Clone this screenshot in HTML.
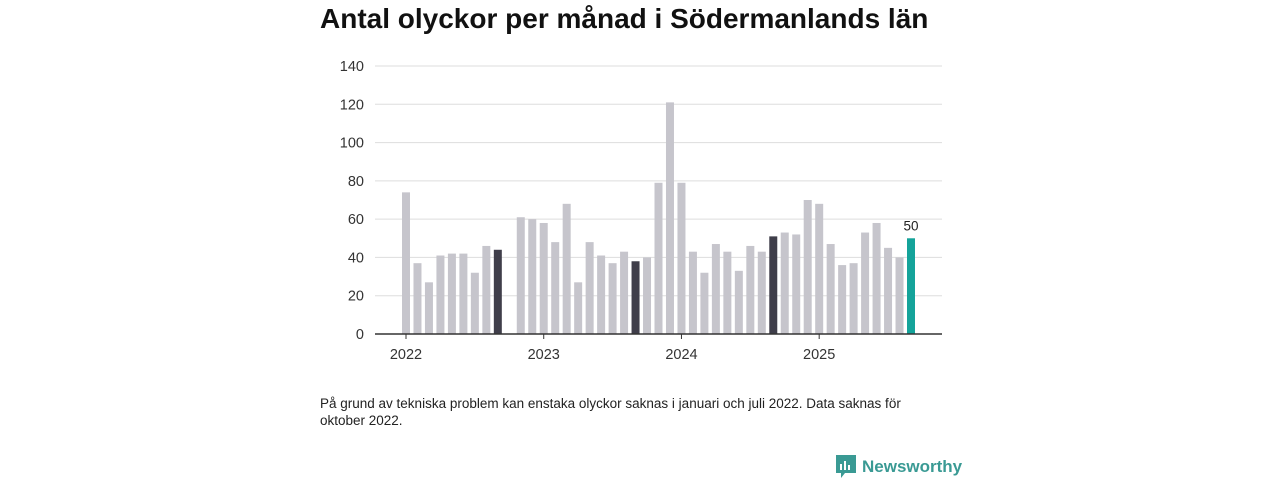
<!DOCTYPE html>
<html><head><meta charset="utf-8"><style>
body{margin:0;width:1280px;height:480px;background:#fff;font-family:"Liberation Sans",sans-serif;overflow:hidden;position:relative}
h1{position:absolute;left:320px;top:3px;margin:0;font-size:28px;font-weight:bold;color:#111}
.note{position:absolute;left:320px;top:395px;font-size:13.5px;color:#222;line-height:17px;width:625px}
.logo{position:absolute;left:836px;top:455px;display:flex;align-items:center;color:#3a9a94;font-size:17px;font-weight:bold}
</style></head><body>
<h1>Antal olyckor per månad i Södermanlands län</h1>
<svg id="chart" width="1280" height="380" style="position:absolute;left:0;top:0"></svg>
<div class="note">På grund av tekniska problem kan enstaka olyckor saknas i januari och juli 2022. Data saknas för oktober 2022.</div>
<div class="logo"><svg width="20" height="24" viewBox="0 0 20 24"><path d="M0 0h20v18H9l-4 5v-5H0z" fill="#3a9a94"/><rect x="4" y="9" width="2" height="6" fill="#fff"/><rect x="8" y="6" width="2" height="9" fill="#fff"/><rect x="12" y="10" width="2" height="5" fill="#fff"/></svg><span style="margin-left:6px">Newsworthy</span></div>
<script>
const values=[74,37,27,41,42,42,32,46,44,null,61,60,58,48,68,27,48,41,37,43,38,40,79,121,79,43,32,47,43,33,46,43,51,53,52,70,68,47,36,37,53,58,45,40,50];
const yTicks=[0,20,40,60,80,100,120,140];
const yearLabels=["2022","2023","2024","2025"];
const lastLabel="50";
const svg=document.getElementById('chart');const NS='http://www.w3.org/2000/svg';
const x0=406,step=(911-406)/44,y0=334,pxPer=(334-66)/140;
const X=i=>x0+i*step, Y=v=>y0-v*pxPer;
function el(t,a,p){const e=document.createElementNS(NS,t);for(const k in a)e.setAttribute(k,a[k]);(p||svg).appendChild(e);return e;}
yTicks.forEach(t=>{
 if(t>0){const g=el('line',{x1:375,x2:942,y1:Y(t),y2:Y(t),stroke:'#ddd','stroke-width':1});
 
 }
 const tx=el('text',{x:364,y:Y(t)+5,'text-anchor':'end','font-size':14.5,fill:'#333'});tx.textContent=t;
 
 
});
values.forEach((v,i)=>{if(v==null)return;
 const c=i===values.length-1?'#14a39a':(i%12===8?'#3f3e4a':'#c6c5cc');
 const r=el('rect',{x:X(i)-4,y:Y(v),width:8,height:v*pxPer,fill:c});
 
 
});
el('line',{x1:375,x2:942,y1:y0,y2:y0,stroke:'#333','stroke-width':1.5});
yearLabels.forEach((l,k)=>{const x=X(k*12);
 el('line',{x1:x,x2:x,y1:y0,y2:y0+5,stroke:'#333'});
 const t=el('text',{x:x,y:359,'text-anchor':'middle','font-size':14.5,fill:'#333'});t.textContent=l;
 
 
});
const li=values.length-1;
const lt=el('text',{x:X(li),y:Y(values[li])-8,'text-anchor':'middle','font-size':13.5,fill:'#222'});lt.textContent=lastLabel;


</script>
</body></html>
